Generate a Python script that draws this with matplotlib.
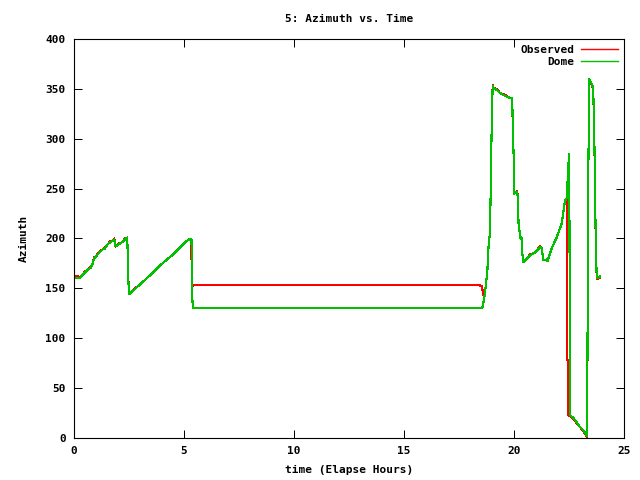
import matplotlib
matplotlib.use("Agg")
import matplotlib.pyplot as plt

# Dome azimuth vs elapsed time (hours)
dome_t = [0, 0.18, 0.27, 0.36, 0.5, 0.65, 0.77, 0.85, 0.91, 1.0, 1.15, 1.30, 1.41, 1.52,
          1.64, 1.76, 1.83, 1.89, 2.02, 2.17, 2.32, 2.42, 2.44, 2.47, 2.5,
          3.0, 3.5, 3.91, 4.5, 5.0, 5.2, 5.34, 5.36, 5.38, 5.4,
          18.56, 18.6, 18.64, 18.73, 18.79, 18.85, 18.91, 18.94, 18.99, 19.03, 19.06,
          19.21, 19.36, 19.59, 19.82, 19.92, 19.94, 20.0, 20.01, 20.15, 20.18, 20.21,
          20.27, 20.30, 20.35, 20.38, 20.42, 20.58, 20.73, 20.95, 21.18, 21.26, 21.33,
          21.49, 21.52, 21.61, 21.71, 21.94, 22.17, 22.32, 22.39, 22.42, 22.47, 22.51,
          22.53, 22.55, 22.70, 22.85, 23.0, 23.15, 23.27, 23.33, 23.34, 23.38, 23.42,
          23.53, 23.60, 23.65, 23.71, 23.76, 23.85, 23.91]
dome_az = [161, 160, 160, 163, 166, 169, 171, 175, 180, 182, 186, 189, 190, 194,
           196, 198, 199, 192, 194, 196, 199, 201, 186, 158, 144,
           154, 164, 173, 184, 195, 199, 199, 170, 140, 130,
           130, 135, 139, 155, 168, 195, 206, 248, 318, 353, 351,
           349, 346, 343, 341, 341, 316, 270, 245, 247, 236, 213,
           205, 200, 201, 185, 176, 180, 183, 186, 191, 191, 178,
           179, 177, 183, 190, 201, 215, 238, 240, 251, 273, 285,
           155, 23, 20, 16, 11, 8, 4, 2, 91, 270, 360,
           355, 351, 303, 206, 160, 161, 162]

# Observed azimuth vs elapsed time (hours)
obs_t = [0, 0.18, 0.27, 0.36, 0.5, 0.65, 0.77, 0.85, 0.91, 1.0, 1.15, 1.30, 1.41, 1.52,
         1.64, 1.76, 1.83, 1.89, 2.02, 2.17, 2.32, 2.42, 2.44, 2.47, 2.5,
         3.0, 3.5, 3.91, 4.5, 5.0, 5.2, 5.32, 5.34, 5.36, 5.38, 5.42,
         18.3, 18.45, 18.53, 18.58, 18.6, 18.64, 18.73, 18.79, 18.85, 18.91, 18.94, 18.99,
         19.03, 19.06, 19.21, 19.36, 19.59, 19.82, 19.92, 19.94, 20.0, 20.01, 20.15,
         20.18, 20.21, 20.27, 20.30, 20.35, 20.38, 20.42, 20.58, 20.73, 20.95, 21.18,
         21.26, 21.33, 21.49, 21.52, 21.61, 21.71, 21.94, 22.17, 22.32, 22.39, 22.42,
         22.42, 22.45, 22.45, 22.55, 22.70, 22.85, 23.0, 23.15, 23.27, 23.33, 23.34,
         23.38, 23.42, 23.53, 23.60, 23.65, 23.71, 23.76, 23.85, 23.91]
obs_az = [163, 162, 160, 163, 167, 169, 172, 175, 181, 182, 187, 189, 191, 194,
          197, 198, 200, 192, 195, 196, 200, 201, 186, 159, 145,
          154, 164, 173, 184, 195, 199, 199, 185, 150, 152, 153,
          153, 153, 152, 147, 145, 139, 155, 168, 195, 206, 248, 318,
          354, 351, 350, 346, 344, 341, 340, 316, 270, 245, 248,
          236, 213, 205, 201, 201, 185, 176, 180, 184, 186, 192,
          191, 178, 179, 177, 183, 190, 201, 215, 239, 239, 239,
          78, 78, 23, 22, 19, 15, 11, 7, 3, 1, 91,
          270, 359, 354, 350, 302, 205, 159, 160, 161]

plt.rcParams["font.family"] = "DejaVu Sans Mono"
plt.rcParams["font.weight"] = "bold"
plt.rcParams["font.size"] = 8

fig = plt.figure(figsize=(6.4, 4.8), dpi=100)
ax = fig.add_axes([74 / 640, 1 - 438 / 480, 550 / 640, 399 / 480])

ax.plot(obs_t, obs_az, color="#ff0000", linewidth=0.8, antialiased=False, label="Observed")
ax.plot(dome_t, dome_az, color="#00c000", linewidth=0.8, antialiased=False, label="Dome")

ax.set_xlim(0, 25)
ax.set_ylim(0, 400)
ax.set_xticks(range(0, 26, 5))
ax.set_yticks(range(0, 401, 50))
ax.tick_params(direction="in", length=6, width=0.72, top=True, right=True, pad=6)
for s in ax.spines.values():
    s.set_linewidth(0.8)

ax.set_title("5: Azimuth vs. Time", fontsize=8, fontweight="bold", pad=12)
ax.set_xlabel("time (Elapse Hours)", fontsize=8, fontweight="bold", labelpad=6)
ax.set_ylabel("Azimuth", fontsize=8, fontweight="bold", labelpad=12)

leg = ax.legend(loc="upper right", frameon=False, markerfirst=False, handlelength=3.4,
                handletextpad=0.6, labelspacing=0.25, borderaxespad=0.1, fontsize=8)
for h in leg.get_lines():
    h.set_antialiased(True)
    h.set_linewidth(1.0)

fig.savefig("out.png", dpi=100)
